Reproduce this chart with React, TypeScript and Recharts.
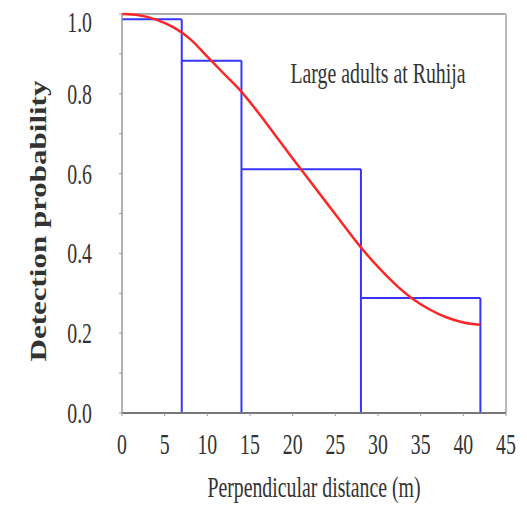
import React from 'react';
import { ComposedChart, Line, XAxis, YAxis, ReferenceLine, Label } from 'recharts';

// histogram of detections (bin edges in m, scaled heights)
const binEdges = [0, 7, 14, 28, 42];
const binHeights = [0.987, 0.883, 0.611, 0.288];

// fitted detection function
const curveX = [0, 2, 4, 6, 8, 10, 12, 14, 16, 18, 20, 22, 24, 26, 28, 30, 32, 34, 36, 38, 40, 42];
const curveY = [1.0, 0.997, 0.986, 0.967, 0.937, 0.893, 0.849, 0.805, 0.752, 0.695, 0.638, 0.582, 0.526, 0.47, 0.415, 0.366, 0.323, 0.287, 0.26, 0.24, 0.227, 0.221];

const xTicks = [0, 5, 10, 15, 20, 25, 30, 35, 40, 45];
const yTicks = [0, 0.1, 0.2, 0.3, 0.4, 0.5, 0.6, 0.7, 0.8, 0.9, 1.0];
const yLabelled = [0, 0.2, 0.4, 0.6, 0.8, 1.0];

const title = 'Large adults at Ruhija';
const xTitle = 'Perpendicular distance (m)';
const yTitle = 'Detection probability';

const curveData = curveX.map((x, i) => ({ x, p: curveY[i] }));

const FONT = '"Liberation Serif", "Times New Roman", serif';
const SQUEEZE = 0.66;
const TXT = '#333';
const BLUE = '#3535ff';

const XTick = (props: any) => {
  const { x, y, payload } = props;
  return (
    <g transform={`translate(${x},${y})`}>
      <text transform={`scale(${SQUEEZE},1)`} textAnchor="middle" dy={20} fontSize={30} fontFamily={FONT} fill={TXT}>
        {payload.value}
      </text>
    </g>
  );
};

const YTick = (props: any) => {
  const { x, y, payload } = props;
  const v = Math.round(payload.value * 10) / 10;
  if (!yLabelled.some(t => Math.abs(t - v) < 1e-6)) return <g />;
  // top label sits a little lower so it isn't clipped
  const dy = v === 1 ? 18 : 10;
  return (
    <g transform={`translate(${x},${y})`}>
      <text transform={`scale(${SQUEEZE},1)`} textAnchor="end" dy={dy} fontSize={30} fontFamily={FONT} fill={TXT}>
        {v.toFixed(1)}
      </text>
    </g>
  );
};

const segments: { x: number; y: number }[][] = [];
binHeights.forEach((h, i) => {
  segments.push([{ x: binEdges[i], y: h }, { x: binEdges[i + 1], y: h }]);
  const next = binHeights[i + 1] ?? 0;
  segments.push([{ x: binEdges[i + 1], y: 0 }, { x: binEdges[i + 1], y: Math.max(h, next) }]);
});

export default function App() {
  return (
    <div style={{ position: 'absolute', left: 0, top: 0, width: 527, height: 505, background: '#fff' }}>
      <ComposedChart width={527} height={505} data={curveData} margin={{ top: 14, right: 21, bottom: 12, left: 22 }}>
        <XAxis
          dataKey="x"
          type="number"
          domain={[0, 45]}
          ticks={xTicks}
          interval={0}
          height={80}
          tickSize={3}
          tickMargin={18}
          tick={<XTick />}
          axisLine={{ stroke: '#777', strokeWidth: 2 }}
          tickLine={{ stroke: '#999' }}
        >
          <Label
            content={(p: any) => {
              const vb = p.viewBox || { x: 122, width: 384 };
              const cx = vb.x + vb.width / 2;
              return (
                <text transform={`translate(${cx},497) scale(${SQUEEZE},1)`} textAnchor="middle" fontSize={30} fontFamily={FONT} fill={TXT}>
                  {xTitle}
                </text>
              );
            }}
          />
        </XAxis>
        <YAxis
          type="number"
          domain={[0, 1]}
          ticks={yTicks}
          interval={0}
          width={100}
          tickSize={3}
          tickMargin={27}
          tick={<YTick />}
          axisLine={{ stroke: '#999', strokeWidth: 1.5 }}
          tickLine={{ stroke: '#999' }}
        >
          <Label
            content={() => (
              <text transform={`translate(39,221) scale(0.72,1) rotate(-90)`} textAnchor="middle" dy={10} fontSize={31} fontWeight="bold" fontFamily={FONT} fill={TXT}>
                {yTitle}
              </text>
            )}
          />
        </YAxis>
        <ReferenceLine y={1} stroke="#aaa" strokeWidth={2} />
        <ReferenceLine x={45} stroke="#bbb" strokeWidth={2} />
        {segments.map((s, i) => (
          <ReferenceLine key={i} segment={s} stroke={BLUE} strokeWidth={2} />
        ))}
        <Line type="monotone" dataKey="p" stroke="#ff2626" strokeWidth={2.5} dot={false} isAnimationActive={false} />
      </ComposedChart>
      <div
        style={{
          position: 'absolute',
          left: 378,
          top: 58,
          transform: `translateX(-50%) scaleX(${SQUEEZE})`,
          whiteSpace: 'nowrap',
          fontFamily: FONT,
          fontSize: 30,
          lineHeight: '30px',
          color: TXT,
        }}
      >
        {title}
      </div>
    </div>
  );
}
